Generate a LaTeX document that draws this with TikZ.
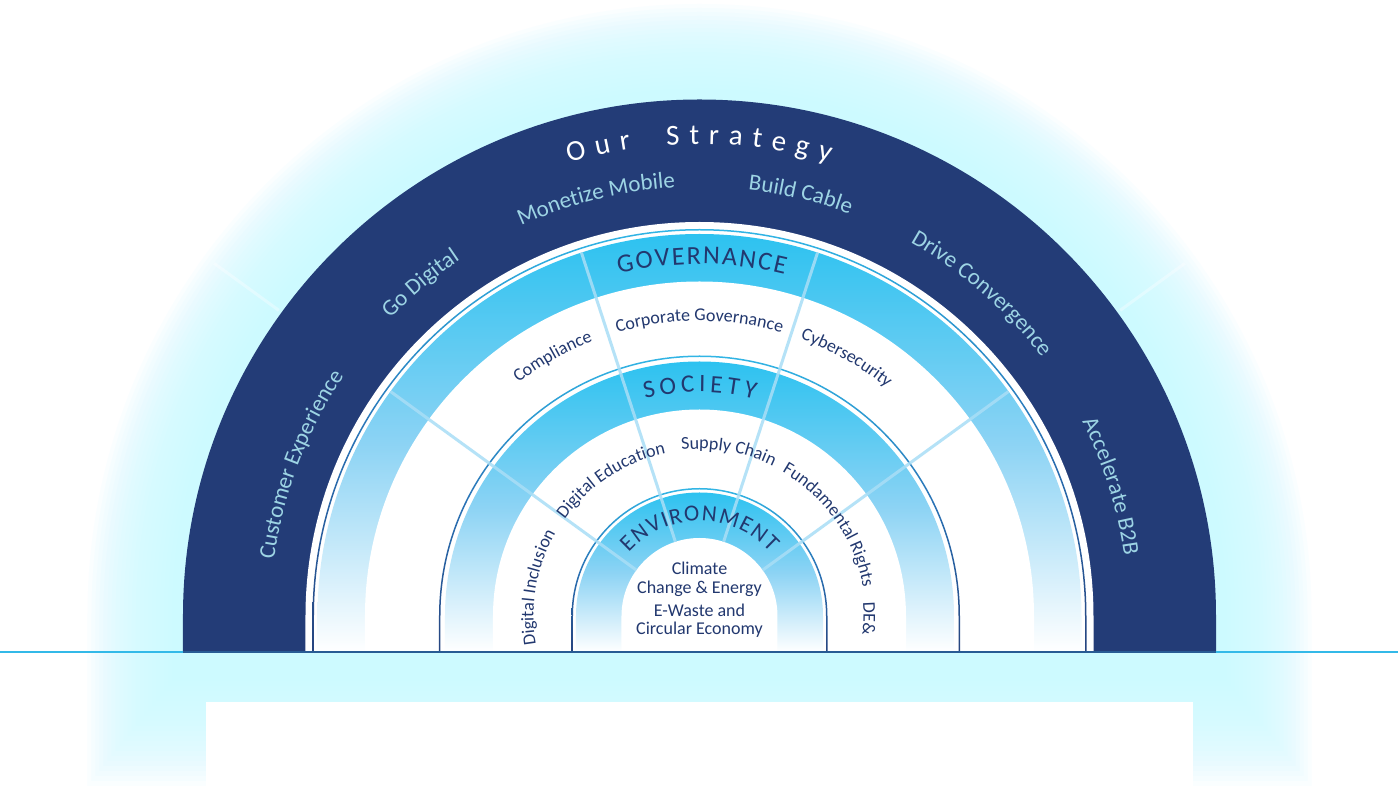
\documentclass[tikz,border=0pt]{standalone}
\usepackage{fontspec}
\setmainfont{Carlito}
\definecolor{navyc}{HTML}{233C77}
\definecolor{labelc}{HTML}{9DD4E4}
\definecolor{txtc}{HTML}{22386F}
\definecolor{cyant}{HTML}{2DC2F0}
\definecolor{cyanm}{HTML}{8CD3F4}
\definecolor{glowc}{HTML}{CDFAFF}
\definecolor{divc}{HTML}{A9DEF6}
\definecolor{ringtop}{HTML}{31B5E5}
\definecolor{ringmid}{HTML}{2A72B5}
\definecolor{ringbot}{HTML}{26447F}
\definecolor{basec}{HTML}{33B9E8}
\newcommand\fOS{\fontsize{29}{34}\selectfont\color{white}}
\newcommand\fLab{\fontsize{23}{27}\selectfont\color{labelc}}
\newcommand\fHeadA{\fontsize{26}{30}\selectfont\color{txtc}}
\newcommand\fHeadB{\fontsize{25}{30}\selectfont\color{txtc}}
\newcommand\fHeadC{\fontsize{23}{27}\selectfont\color{txtc}}
\newcommand\fItem{\fontsize{18}{21}\selectfont\color{txtc}}
\makeatletter
\newdimen\chw
\newdimen\chtot
\newcommand\wsp{\kern\fontdimen2\font}
% \defword{name}{font}{radius}{centre angle}{extra gap}{letters}  (measured outside the picture)
\newcommand\defword[6]{%
  \global\chtot=0pt\relax
  \foreach \ch [count=\ci] in {#6}{%
    \settowidth{\chw}{#2\ch}%
    \expandafter\xdef\csname cw@#1@\ci\endcsname{\strip@pt\chw}%
    \global\advance\chtot by \chw\relax
    \global\advance\chtot by #5pt\relax}%
  \global\advance\chtot by -#5pt\relax
  \expandafter\xdef\csname tw@#1\endcsname{\strip@pt\chtot}%
  \expandafter\gdef\csname ft@#1\endcsname{#2}%
  \expandafter\gdef\csname lt@#1\endcsname{#6}%
  \expandafter\xdef\csname rd@#1\endcsname{#3}%
  \expandafter\xdef\csname ce@#1\endcsname{#4}%
  \expandafter\xdef\csname gp@#1\endcsname{#5}%
}
\newcommand\drawword[1]{%
  \edef\wr{\csname rd@#1\endcsname}%
  \edef\wc{\csname ce@#1\endcsname}%
  \edef\wg{\csname gp@#1\endcsname}%
  \edef\totnum{\csname tw@#1\endcsname}%
  \expandafter\let\expandafter\wfont\csname ft@#1\endcsname
  \expandafter\let\expandafter\wlist\csname lt@#1\endcsname
  \pgfmathsetmacro\startang{\wc+(\totnum/2)/\wr*180/pi}%
  \global\let\curang\startang
  \foreach \ch [count=\ci] in \wlist {%
    \edef\wnum{\csname cw@#1@\ci\endcsname}%
    \pgfmathsetmacro\ca{\curang-(\wnum/2)/\wr*180/pi}%
    \node[rotate=\ca-90, anchor=base, inner sep=0pt, font=\wfont] (#1\ci) at (\ca:\wr) {\ch};
    \pgfmathsetmacro\na{\curang-(\wnum+\wg)/\wr*180/pi}%
    \global\let\curang\na
  }%
}
\makeatother
\begin{document}
\defword{osa}{\fOS}{472}{102.2}{9.5}{O,u,r}
\defword{osb}{\fOS}{472}{84}{9.5}{S,t,r,a,t,e,g,y}
\defword{cx}{\fLab}{429}{159.2}{0}{C,u,s,t,o,m,e,r,\wsp,E,x,p,e,r,i,e,n,c,e}
\defword{gd}{\fLab}{429}{130}{0}{G,o,\wsp,D,i,g,i,t,a,l}
\defword{mm}{\fLab}{429}{103.9}{0}{M,o,n,e,t,i,z,e,\wsp,M,o,b,i,l,e}
\defword{bc}{\fLab}{429}{76.5}{0}{B,u,i,l,d,\wsp,C,a,b,l,e}
\defword{dc}{\fLab}{429}{48.8}{0}{D,r,i,v,e,\wsp,C,o,n,v,e,r,g,e,n,c,e}
\defword{ab}{\fLab}{429}{17.5}{0}{A,c,c,e,l,e,r,a,t,e,\wsp,B,2,B}
\defword{gov}{\fHeadA}{352}{89.6}{1.9}{G,O,V,E,R,N,A,N,C,E}
\defword{soc}{\fHeadB}{224}{89.9}{4.4}{S,O,C,I,E,T,Y}
\defword{env}{\fHeadC}{95}{90}{1.5}{E,N,V,I,R,O,N,M,E,N,T}
\defword{cp}{\fItem}{295}{119.5}{0}{C,o,m,p,l,i,a,n,c,e}
\defword{cg}{\fItem}{295}{90}{0}{C,o,r,p,o,r,a,t,e,\wsp,G,o,v,e,r,n,a,n,c,e}
\defword{cs}{\fItem}{295}{60.3}{0}{C,y,b,e,r,s,e,c,u,r,i,t,y}
\defword{di}{\fItem}{166}{170}{0}{D,i,g,i,t,a,l,\wsp,I,n,c,l,u,s,i,o,n}
\defword{de}{\fItem}{166}{123}{0}{D,i,g,i,t,a,l,\wsp,E,d,u,c,a,t,i,o,n}
\defword{sc}{\fItem}{167}{80}{0}{S,u,p,p,l,y,\wsp,C,h,a,i,n}
\defword{fr}{\fItem}{166}{35}{0}{F,u,n,d,a,m,e,n,t,a,l,\wsp,R,i,g,h,t,s}
\defword{dei}{\fItem}{164}{-1}{0}{D,E,\&}
\begin{tikzpicture}[x=1pt,y=1pt,
  domep/.style={insert path={(-#1,-36) -- (-#1,0) arc[start angle=180,end angle=0,radius=#1pt] -- (#1,-36) -- cycle}},
  ringp/.style 2 args={insert path={(-#1,-36) -- (-#1,0) arc[start angle=180,end angle=0,radius=#1pt] -- (#1,-36) -- (#2,-36) -- (#2,0) arc[start angle=0,end angle=180,radius=#2pt] -- (-#2,-36) -- cycle}},
  bandshade/.style={top color=cyant, bottom color=white, middle color=cyanm},
  ringshade/.style={top color=ringtop, bottom color=ringbot, middle color=ringmid},
  divline/.style={draw=divc, line width=3pt, opacity=.85},
  itemtext/.style={font=\fItem, inner sep=0pt, anchor=base}]
\useasboundingbox (-699.5,-192) rectangle (698.5,616);
\fill[white] (-699.5,-192) rectangle (698.5,616);
% glow
\foreach \k [evaluate=\k as \R using 516+4*\k, evaluate=\k as \B using 50+5*\k] in {1,...,24}
  \fill[glowc, opacity=.095] (-\R,-\B) -- (-\R,0) arc[start angle=180,end angle=0,radius=\R pt] -- (\R,-\B) -- cycle;
\fill[white] (-493.5,-86) rectangle (493.5,-192);
\foreach \a in {36,144} \draw[white, line width=3pt, opacity=.35] (\a:520) -- (\a:600);
% rings
\fill[navyc, domep=516.5];
\fill[white, domep=394];
\shade[ringshade, ringp={387}{385.5}];
\shade[bandshade, domep=382];
\fill[white, domep=334.5];
\shade[ringshade, ringp={260.5}{259}];
\shade[bandshade, domep=254.5];
\fill[white, domep=206.5];
\shade[ringshade, ringp={128}{126.5}];
\shade[bandshade, domep=123.5];
\fill[white, domep=78];
\foreach \a in {36,72,108,144} \draw[divline] (\a:78) -- (\a:382);
% baseline
\draw[basec, line width=2pt] (-699.5,-36) -- (698.5,-36);
\draw[ringbot, line width=1.5pt, opacity=.8] (-516.5,-36) -- (516.5,-36);
% curved texts
\drawword{osa}\drawword{osb}
\drawword{cx}\drawword{gd}\drawword{mm}\drawword{bc}\drawword{dc}\drawword{ab}
\drawword{gov}\drawword{soc}\drawword{env}
\drawword{cp}\drawword{cg}\drawword{cs}
\drawword{di}\drawword{de}\drawword{sc}\drawword{fr}\drawword{dei}
% environment items
\node[itemtext] (clim1) at (0,41) {Climate};
\node[itemtext] (clim2) at (0,22.7) {Change \& Energy};
\node[itemtext] (ew1) at (0,-0.7) {E-Waste and};
\node[itemtext] (ew2) at (0,-19) {Circular Economy};
\end{tikzpicture}
\end{document}
